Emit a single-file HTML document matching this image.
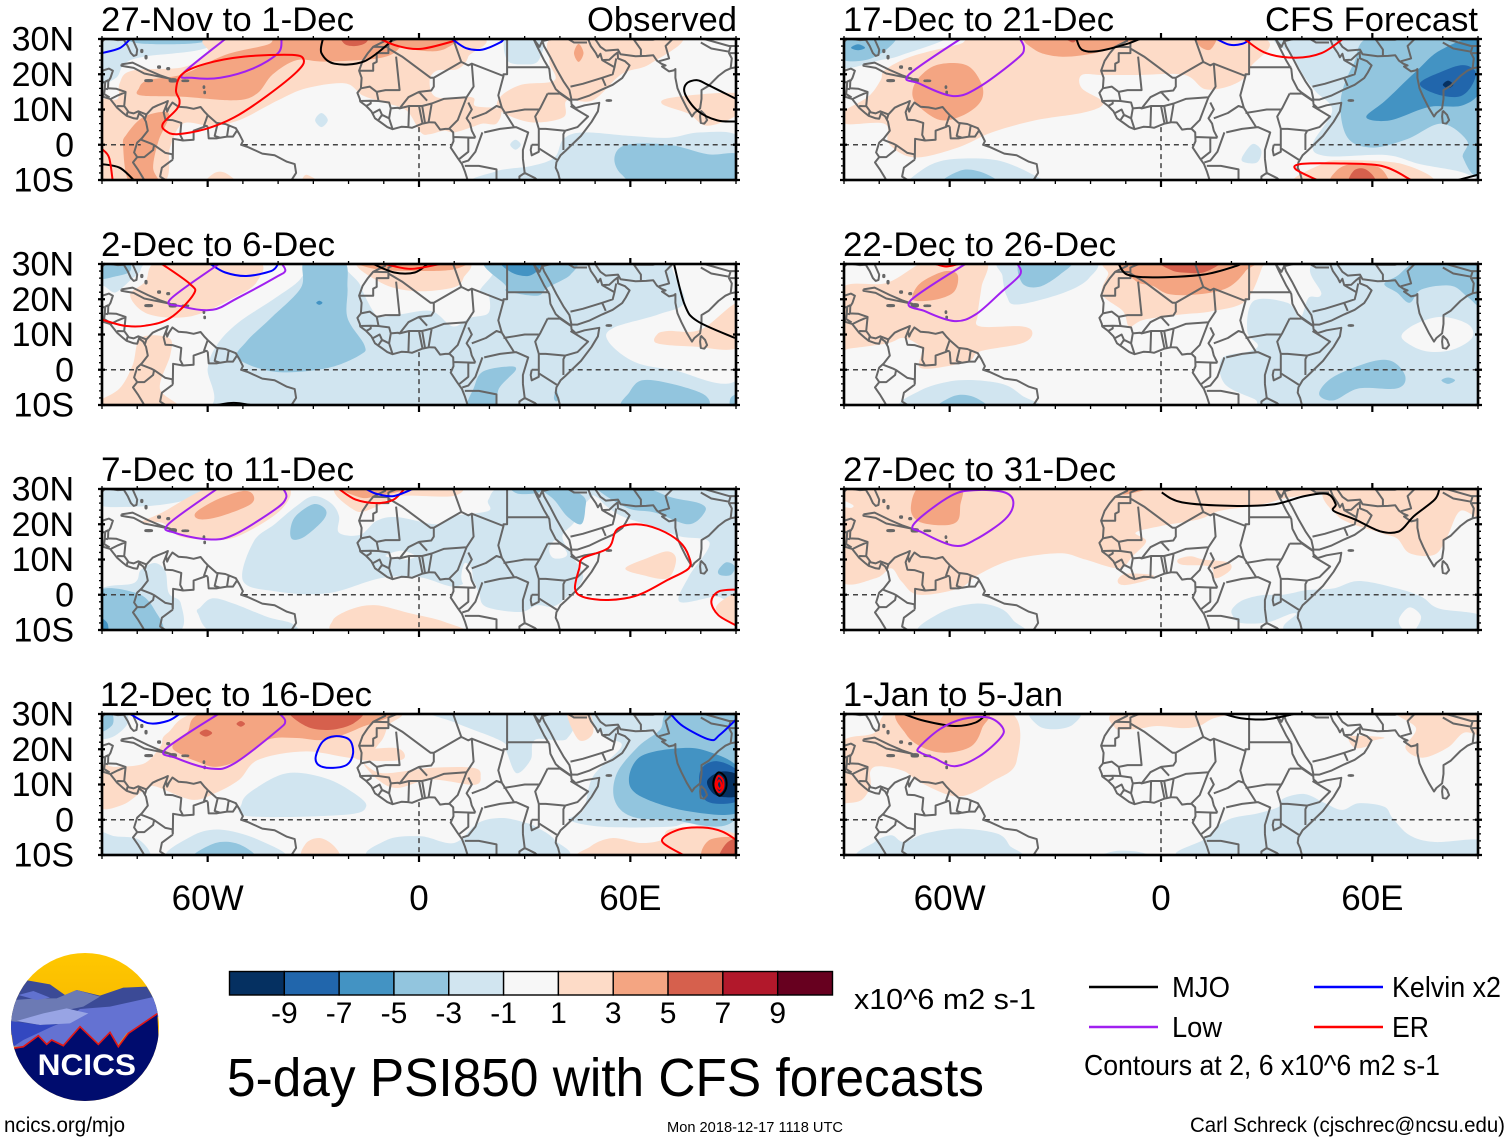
<!DOCTYPE html>
<html lang="en">
<head>
<meta charset="utf-8">
<title>5-day PSI850 with CFS forecasts</title>
<style>
html,body{margin:0;padding:0;background:#fff;width:1510px;height:1142px;overflow:hidden}
svg{display:block}
text{font-family:"Liberation Sans",sans-serif;fill:#000}
</style>
</head>
<body>
<svg id="chart" xmlns="http://www.w3.org/2000/svg" width="1510" height="1142" viewBox="0 0 1510 1142">
<g id="panels"></g>
<g font-size="34">
<text x="101" y="31" textLength="253" lengthAdjust="spacingAndGlyphs">27-Nov to 1-Dec</text>
<text x="587" y="31" textLength="150" lengthAdjust="spacingAndGlyphs">Observed</text>
<text x="101" y="256" textLength="234" lengthAdjust="spacingAndGlyphs">2-Dec to 6-Dec</text>
<text x="101" y="481" textLength="253" lengthAdjust="spacingAndGlyphs">7-Dec to 11-Dec</text>
<text x="100" y="706" textLength="272" lengthAdjust="spacingAndGlyphs">12-Dec to 16-Dec</text>
<text x="843" y="31" textLength="271" lengthAdjust="spacingAndGlyphs">17-Dec to 21-Dec</text>
<text x="1265" y="31" textLength="213" lengthAdjust="spacingAndGlyphs">CFS Forecast</text>
<text x="843" y="256" textLength="273" lengthAdjust="spacingAndGlyphs">22-Dec to 26-Dec</text>
<text x="843" y="481" textLength="273" lengthAdjust="spacingAndGlyphs">27-Dec to 31-Dec</text>
<text x="843" y="706" textLength="220" lengthAdjust="spacingAndGlyphs">1-Jan to 5-Jan</text>
</g>
<g id="colorbar"></g>
<text x="854" y="1009" font-size="29" textLength="182" lengthAdjust="spacingAndGlyphs">x10^6 m2 s-1</text>
<text x="227" y="1096" font-size="54" textLength="757" lengthAdjust="spacingAndGlyphs">5-day PSI850 with CFS forecasts</text>
<g>
<line x1="1089" x2="1158" y1="987" y2="987" stroke="#000" stroke-width="2.4"/>
<text x="1172" y="997" font-size="29" textLength="58" lengthAdjust="spacingAndGlyphs">MJO</text>
<line x1="1314" x2="1383" y1="987" y2="987" stroke="#0000ff" stroke-width="2.4"/>
<text x="1392" y="997" font-size="29" textLength="109" lengthAdjust="spacingAndGlyphs">Kelvin x2</text>
<line x1="1089" x2="1158" y1="1027" y2="1027" stroke="#a020f0" stroke-width="2.4"/>
<text x="1172" y="1037" font-size="29" textLength="50" lengthAdjust="spacingAndGlyphs">Low</text>
<line x1="1314" x2="1383" y1="1027" y2="1027" stroke="#ff0000" stroke-width="2.4"/>
<text x="1392" y="1037" font-size="29" textLength="37" lengthAdjust="spacingAndGlyphs">ER</text>
<text x="1084" y="1075" font-size="29" textLength="356" lengthAdjust="spacingAndGlyphs">Contours at 2, 6 x10^6 m2 s-1</text>
</g>
<text x="4" y="1132" font-size="21" textLength="121" lengthAdjust="spacingAndGlyphs">ncics.org/mjo</text>
<text x="667" y="1132" font-size="15" textLength="176" lengthAdjust="spacingAndGlyphs">Mon 2018-12-17 1118 UTC</text>
<text x="1190" y="1132" font-size="21.5" textLength="315" lengthAdjust="spacingAndGlyphs">Carl Schreck (cjschrec@ncsu.edu)</text>
<defs>
<clipPath id="logo-clip"><circle cx="255" cy="246" r="222"/></clipPath>
<linearGradient id="sun" x1="0" y1="0" x2="0" y2="1"><stop offset="0" stop-color="#ffc800"/><stop offset="1" stop-color="#eea400"/></linearGradient>
</defs>
<g transform="translate(0,945) scale(0.33333)">
<g clip-path="url(#logo-clip)">
<rect x="30" y="20" width="450" height="450" fill="url(#sun)"/>
<path d="M30,160 L82,106 L150,118 L195,150 L230,135 L300,152 L370,128 L440,125 L485,200 L30,270Z" fill="#3b4a96"/>
<path d="M30,235 L42,165 L110,160 L170,160 L230,135 L300,155 L250,185 L130,210Z" fill="#6c7ab4"/>
<path d="M55,150 L100,138 L150,158 L110,165Z" fill="#6172d0"/>
<path d="M240,192 L330,185 L465,155 L485,210 L380,265 L350,305 L330,262 L300,298 L240,245 L190,300 L155,285 L140,298 L115,272 L70,305 L40,305 L90,270 L180,235Z" fill="#6472d2"/>
<path d="M50,228 L130,205 L200,190 L265,205 L210,235 L120,240Z" fill="#98a4e4"/>
<path d="M30,228 L120,240 L170,238 L70,285 L40,305Z" fill="#3348c0"/>
<path d="M30,310 L45,308 L70,305 L115,272 L140,298 L155,285 L190,302 L240,245 L295,298 L330,262 L355,305 L385,265 L472,206 L485,480 L30,480Z" fill="#000c6e"/>
<path d="M40,310 L70,305 L115,272 L140,298 L155,285 L190,302 L240,245 L295,298 L330,262 L355,305 L385,265 L472,206" fill="none" stroke="#e01818" stroke-width="5"/>
</g>
<text x="113" y="390" font-size="88" font-weight="bold" style="fill:#fff" textLength="295" lengthAdjust="spacingAndGlyphs">NCICS</text>
</g>
</svg>
<script>
// Axis values
const xTickLabels = ['60W', '0', '60E'];
const xTickLons = [-60, 0, 60];
const yTickLabels = ['30N', '20N', '10N', '0', '10S'];
const yTickLats = [30, 20, 10, 0, -10];
const minorLons = [-90, -80, -70, -50, -40, -30, -20, -10, 10, 20, 30, 40, 50, 70, 80, 90];
const minorLats = [28, 26, 24, 22, 18, 16, 14, 12, 8, 6, 4, 2, -2, -4, -6, -8];
const equatorSegments = [[-90, -79], [-50, 9.5], [42.5, 90]];
const meridianSegment = [5, -10];

// Colour bar
const cbarColors = ['#053061', '#2166ac', '#4393c3', '#92c5de', '#d1e5f0', '#f7f7f7', '#fddbc7', '#f4a582', '#d6604d', '#b2182b', '#67001f'];
const cbarLabels = ['-9', '-7', '-5', '-3', '-1', '1', '3', '5', '7', '9'];
const bandKeys = [-5, -4, -3, -2, -1, 0, 1, 2, 3, 4, 5];
const contourColors = {MJO: '#000000', Low: '#a020f0', Kelvin: '#0000ff', ER: '#ff0000'};

// Map outlines, lon/lat
const landOutlines = [
[[-90,29.2],[-89,30.2],[-85.5,29.7],[-83.8,29.8],[-82.7,28],[-81.8,26],[-81,25.2],[-80.2,25.5],[-80,27],[-81.2,29.7],[-81.4,31]],
[[-91,18.7],[-90.5,20.8],[-88,21.6],[-86.9,21],[-87.6,19],[-88.2,18],[-88.3,16],[-86,15.9],[-83.3,15],[-83.7,11],[-82.4,9.2],[-81,8.9],[-79.7,9.5],[-77.4,8.6],[-75.6,10.5],[-74.2,11.2],[-72.2,12],[-71.3,12.4],[-71.8,10.8],[-71.5,9.4],[-71,10.5],[-70,12],[-68.3,10.8],[-66,10.6],[-64,10.2],[-62,10.7],[-61,9.5],[-60,8.4],[-57.5,6.2],[-55,5.9],[-52,4.7],[-51,3],[-50,1],[-50.5,0],[-48.5,-0.7],[-44.5,-2.5],[-41,-3],[-37.5,-4.8],[-35.3,-5.5],[-34.9,-8],[-36.5,-10.5],[-37.5,-11]],
[[-91,14],[-87.7,13],[-85.7,10.5],[-84,9],[-83,8.2],[-81,7.5],[-80,7.4],[-79.5,8.9],[-78.3,8],[-77.5,6.5],[-77,4],[-78.7,1.8],[-80,0.6],[-80.9,-2.2],[-80,-3.5],[-81.2,-5],[-79.7,-7.2],[-78.3,-9.5],[-77.5,-11]],
[[-92,15],[-91,17.5],[-89.1,17.8],[-89.2,15.9],[-88.3,15.8]],[[-89.1,17.9],[-88.2,18.3]],[[-89.2,15.9],[-89.4,14.4],[-87.8,13.4]],[[-89.4,14.4],[-90,13.7]],
[[-87.5,13],[-85.5,14],[-83.2,15]],[[-85.7,11],[-83.7,10.9]],[[-83,8.3],[-82.7,9.6]],[[-77.4,8.6],[-77.8,7.3]],
[[-71.5,11.8],[-72.5,9.2],[-72,7.1],[-70,7],[-67.5,6.2],[-67.8,2.8],[-67,1.2],[-69.8,1.7],[-69.9,-4.2]],
[[-78.8,1.4],[-76,0.3],[-75.2,-0.1],[-72,-2.3],[-70,-2.7],[-69.9,-4.2]],[[-80.2,-3.5],[-78,-3.5],[-75.5,-1.5],[-75.2,-0.1]],
[[-60,8.4],[-61,5.5],[-60,5.2]],[[-60.7,5.2],[-64,4],[-64,1.4],[-67,1.2]],[[-60,5.2],[-59.7,1.8],[-57.5,1.8],[-56.5,2]],
[[-57.2,5.9],[-58,2.5],[-56.5,2]],[[-54,5.7],[-54.5,2.3],[-56.5,2]],[[-51.6,4.2],[-52.8,2.3],[-54.5,2.3]],[[-69.9,-4.2],[-73,-6.5],[-73.5,-9],[-70.5,-11]],
[[-84.5,22.8],[-81.3,23.3],[-77,21.2],[-73.5,19.7],[-70.6,18.7],[-75,19.6],[-78,20.2],[-81,21.8],[-84.5,22.4],[-84.5,22.8]],
[[-9.6,31],[-9.6,29.5],[-13,27.8],[-14.5,26],[-16,23.8],[-17,21],[-16.3,19],[-16.5,16],[-17.5,14.7],[-16.8,13],[-16.7,12.3],[-15,11],[-13.5,9.5],[-12.5,7.5],[-10.8,6.3],[-9,5],[-7.5,4.4],[-5,5.1],[-3,5],[-2,4.8],[1,6],[3,6.4],[4.5,6.3],[6,4.3],[7.5,4.5],[8.7,4.5],[9.7,3.5],[9.8,1],[9,-0.8],[11,-3.8],[12.2,-5.5],[13,-7.5],[13.8,-10],[13.8,-11]],
[[32.6,31.2],[32.6,29.9],[33.6,27.8],[35.5,24],[37,21.5],[37.3,18.7],[38.8,15.8],[39.7,15],[43.2,12.5],[43.3,11.5],[44.5,10.4],[47,11.2],[51.2,11.9],[50.8,9.5],[49,6.5],[46,2.5],[43.5,0.1],[41.5,-1.8],[40.2,-3],[39,-5],[38.8,-6.5],[39.5,-8],[40,-10],[40.5,-11]],
[[32.6,29.9],[34.2,27.8],[35,29.5],[34.5,31.2]],
[[35,29.5],[35.5,28],[37.2,25],[39,21.5],[41,18],[42.7,15.5],[43.3,12.8],[45,12.8],[48.5,14],[52,15.7],[55,17],[57.7,18.9],[58.7,20.5],[59.8,22.5],[58.5,23.7],[56.5,24.5],[56.4,26.2],[55.5,25.5],[54,24.1],[52,24],[51.5,25.8],[50.8,24.8],[50.2,26],[48.8,28],[48,30],[48.6,30]],
[[48.6,30],[50,30],[51.5,27.8],[53,26.7],[56.5,27],[57.2,25.7],[61.5,25.1],[64.5,25.2],[66.5,25.4],[67.5,23.9],[68.8,23],[70,22.5],[69,22.2],[71,20.8],[72.3,21.1],[72.8,21.5],[72.8,19],[73.4,16],[74.5,13.5],[76,10.5],[77.5,8],[78.2,9],[79.8,10.3],[80.2,13],[80.2,15.5],[82.2,16.7],[85,19.5],[87,21],[88.5,21.7],[90,22],[91,22.5]],
[[80,9.7],[81.2,8.5],[81.8,7],[81,6],[80,6.2],[79.8,8],[80,9.7]],
[[-13,27.8],[-8.7,27.7],[-8.7,29],[-5,30.5]],[[-17,21],[-13,21],[-13,23],[-12,23.5],[-12,26],[-8.7,26],[-8.7,27.7]],
[[-8.7,27.3],[-4.8,25],[3.3,19],[4.2,19],[4.2,16.5],[3.5,15.4],[0,15]],[[-6.5,25],[-5.5,15.5],[-9.5,15.5],[-12,15],[-11.5,12.5]],[[-16.5,16],[-14,16.5],[-12,15]],
[[-16.7,12.4],[-13.7,12.5],[-11.5,12.4],[-8.5,12],[-8,10.3],[-6,10.5],[-5.5,10.3],[-2.8,11],[0,11],[0.9,11],[3.6,11.7]],[[-13.7,12.5],[-13.7,11.7],[-15,11]],
[[-13,9],[-11.2,10],[-10.5,8.5],[-11.5,7]],[[-10.5,8.5],[-8.5,7.5],[-7.5,4.4]],[[-8.5,7.5],[-8,10.3]],
[[-5.5,10.3],[-3,13.5],[0,15],[2.3,12.5]],[[-2.8,11],[-3,5]],[[0,11],[1,6]],[[0.9,11],[1.7,6.2]],[[2.7,6.3],[3.6,11.7],[7,13],[13.5,13.5]],
[[4.2,19],[12,23.5],[14,22.5],[15,23],[15.5,16.5],[13.5,13.5]],[[12,23.5],[9.5,30.5]],[[15,23],[24,19.5],[24,20],[25,20],[25,31]],[[25,22],[37,22]],
[[24,19.5],[22.5,14],[23.5,10.5],[27,5]],[[8.5,4.5],[11,7],[13.5,13.5]],[[14,12],[15,10],[13.5,7.5],[14.5,6],[15,4],[16,2]],
[[15,7.5],[19,9],[22,11],[23.5,10.5]],[[24,9],[27,9.5],[30,10],[34,10]],[[36.5,14.5],[34.5,10.5],[33,8],[34,4.5]],
[[18.5,3.5],[23,4.5],[27.5,5],[31,3.5],[29.5,-1.5],[29.5,-4]],[[34,4.5],[34,0],[34,-1],[39.5,-4.5]],[[34,4.5],[36,4.5],[41.5,4],[45,5],[48,8],[43,11]],[[41,-1.5],[41,3],[41.5,4]],
[[36.5,14.5],[40,14.5],[43,12.5]],[[9.7,2.2],[16,2]],[[14,2],[14,-2],[11.5,-4]],[[18,3.5],[16,-2],[14,-4.5],[12.3,-5]],[[13,-6],[17,-6],[22,-7],[22,-11]],[[22,-11],[24,-11]],
[[32,0],[34,0],[34,-2],[32,-3],[31.7,-1.5],[32,0]],[[29.5,-4],[30,-8],[31,-8.5]],[[30,-8],[28.5,-9],[28.5,-11]],[[31,-8.5],[33,-9.5],[34.5,-11]],[[34.5,-10],[34.5,-11]],
[[43,16.5],[46.5,17.3],[52,19],[55,20],[55.5,22]],[[52,24],[55.5,22],[56,24.5]],[[52,19],[53,16.7]],[[37,32],[39,32],[44,29],[46.5,29],[47.7,29]],[[47.7,31],[48.3,30]],[[35,29.4],[37.5,30],[36,31.5]],
[[61,31],[61,29.8],[63,27],[63,25.3]],[[61,29.8],[66.5,29.8],[69.5,31]],[[68.2,23.7],[71,24.5],[70,28],[73,31]],[[80,29],[83,27.3],[88,26.4]],[[88,26.4],[88.5,28]],[[88.5,21.8],[88.8,24.5],[88,26],[89.7,26],[92,26.5]],[[92,25],[92.5,21]],[[78,31],[81,30],[88,28],[92,28]]
];
const islandBlobs = [
[[-77.7,18.5],[-75.8,18.5],[-75.8,17.9],[-77.7,17.9]],
[[-70.8,18.7],[-69,18.7],[-69,17.8],[-70.8,17.8]],
[[-67.2,18.4],[-65.5,18.4],[-65.5,17.9],[-67.2,17.9]],
[[-79,27],[-78.4,27],[-78.4,26.2],[-79,26.2]],
[[-77.8,25.3],[-77.2,25.3],[-77.2,24.4],[-77.8,24.4]],
[[-74.2,22.4],[-73.4,22.4],[-73.4,21.7],[-74.2,21.7]],
[[-71.6,21.9],[-70.8,21.9],[-70.8,21.3],[-71.6,21.3]],
[[-61.3,16.7],[-60.8,16.7],[-60.8,16],[-61.3,16]],
[[-61.1,15.2],[-60.6,15.2],[-60.6,14.5],[-61.1,14.5]],
[[53.2,12.8],[54.6,12.8],[54.6,12.3],[53.2,12.3]]
];

// Panel 1: 27-Nov to 1-Dec
const fills1 = [
[-1,[[-91,31],[-91,18],[-86,19],[-83.6,23],[-78,25],[-62,27],[-55,31]]],
[-2,[[-82,31],[-81,29],[-72,28.5],[-62,29],[-58,31]]],
[-1,[[25,31],[25,24],[30,22.8],[34,24],[35,31]]],
[-1,[[-29.5,7],[-27.7,9],[-25.9,7],[-27.7,5]]],
[-1,[[20,-11],[22,-7.5],[32,-6],[38.5,-3.6],[41,1.6],[46.7,3.5],[60,2.5],[71,2],[80,3.5],[91,2],[91,-11]]],
[-1,[[25.9,0],[27.4,1.4],[28.9,0],[27.4,-1.4]]],
[-2,[[55.5,-3.6],[59,0],[71,0],[82,-2.7],[91,-2.9],[91,-11],[64,-11],[57.5,-8.4]]],
[1,[[-91,-11],[-91,11],[-85.6,13],[-85,17.4],[-81.5,21],[-67,22],[-60,26],[-55,31],[14,31],[14,25],[11,21.5],[5,21],[3,18],[5,13.5],[15,13.5],[16,11],[23,10],[22,6],[18,6],[15,5],[10,3.5],[7,4],[3,3],[0.5,3.5],[-3.5,9.7],[-10,12],[-16,14],[-21,17.4],[-32,16],[-40,12.6],[-51,7],[-59,5.4],[-67,6],[-70.7,-0.8],[-73,-11]]],
[1,[[40,31],[37,24],[38.5,18.3],[29,17],[23,13.5],[23,9.7],[31.7,6.4],[41,7.8],[42,12.6],[49.4,12.6],[57.5,20],[65.7,23],[74,31]]],
[1,[[69,11.6],[72.5,13.5],[91,14.5],[91,9],[82,5.4],[76.5,8.8]]],
[1,[[-60.5,-11],[-58,-8],[-55,-8],[-52,-11]]],
[1,[[-33,-11],[-32,-8.5],[-28,-11]]],
[2,[[-79.5,16],[-77,18.3],[-67,20],[-55,25.5],[-43,28.4],[-37.5,31],[-6,31],[-6,27],[-11.7,24.5],[-26.6,23.6],[-34.7,24],[-41.5,20],[-46,14.5],[-52.4,12.6],[-67,13.6],[-79,14]]],
[2,[[-84,-0.5],[-83,3],[-78,8],[-71,8.8],[-74,1],[-75.5,-6.5],[-74,-11],[-82,-11]]],
[2,[[-6,31],[-6,28],[3,26.5],[8,27.5],[11,31]]],
[2,[[44,26],[45.3,28.6],[46.7,26],[45.3,23.5]]],
[3,[[-22,31],[-21,28.5],[-18,28],[-15,29],[-15,31]]]
];
const contours1 = [
['MJO',0,[[-27.3,30],[-27.7,26],[-24,23],[-15.7,23.6],[-8.3,29],[-8.3,30]]],
['MJO',0,[[-90,-5.5],[-85,-6.5],[-81,-10]]],
['ER',0,[[-90,-1.2],[-88,-3.6],[-87,-10]]],
['Kelvin',0,[[-90,26],[-85,27.4],[-82,30]]],
['Low',0,[[-55,30],[-67,20.2],[-64.5,19],[-56.4,19],[-47,21.7],[-40,26],[-39,30]]],
['ER',1,[[-67.3,20],[-60.5,23],[-49.7,25],[-36,25.5],[-32.7,24],[-34.7,20.7],[-43,14],[-52.4,7.8],[-60.5,4.5],[-68.7,3],[-72,4],[-72.7,6],[-68.7,10.2],[-68,12.6],[-69,15.5]]],
['ER',0,[[-11,30],[-6,28],[0.5,27.2],[9.4,29.3],[10,30]]],
['Kelvin',0,[[9.4,30],[13.4,27.4],[18,27],[23,29],[24,30]]],
['MJO',0,[[90,13],[82,17],[79,18.3],[76,17.4],[75.5,14.5],[79,9.7],[84.7,6.9],[90,6.6]]]
];

// Panel 2: 2-Dec to 6-Dec
const fills2 = [
[-1,[[-92,32],[92,32],[92,-12],[-92,-12]]],
[0,[[-33.5,31],[-33.5,26],[-40.7,20.4],[-51.4,13.3],[-57.4,7],[-60,0.4],[-60.4,-11],[-91,-11],[-91,21.4],[-86,22],[-80,27],[-73,31]]],
[0,[[-18.5,31],[-16.7,24],[-13,16.6],[-10.8,15],[-5.4,15.7],[3.6,16.6],[9.6,12.3],[14.4,14.7],[19.7,16.1],[19.7,21.4],[17.3,22.3],[19.7,31]]],
[0,[[72.4,31],[75.4,19.5],[68,15.7],[55,11.8],[53.8,8],[61,2.3],[71.8,0],[91,-2],[91,31]]],
[-2,[[-32.3,31],[-21.5,31],[-20.3,23.3],[-20.3,14.7],[-15.5,7],[-16.7,4.2],[-26.3,0.4],[-40.7,-0.6],[-51.4,3.2],[-49,8],[-42,14.7],[-33.5,23.3]]],
[-3,[[-29.2,19],[-28.3,19.6],[-27.4,19],[-28.3,18.4]]],
[-2,[[19,31],[24.5,24],[25,22.3],[33.5,21],[36.5,23.3],[43,27],[43,31]]],
[-3,[[23.3,31],[26.3,27.6],[31,26.6],[34,28.5],[34.7,31]]],
[-2,[[15.5,-5.3],[18,-0.6],[25,0.9],[27.5,0],[22.7,-5.3],[21.5,-11],[13.8,-11]]],
[-2,[[59.8,-6.3],[63.4,-3],[71.8,-4],[81.3,-7.3],[80,-11],[58.6,-11]]],
[-2,[[-91,31],[-83,31],[-82,28],[-86,26.5],[-91,26]]],
[-2,[[88.5,-11],[88.5,-8],[91,-7],[91,-11]]],
[-2,[[38.3,-8],[39,-5.5],[39.6,-8],[39,-9]]],
[1,[[-73,31],[-46.6,31],[-46,25],[-52.6,20.4],[-64.6,15.2],[-76.6,15.7],[-82,21],[-77.7,25]]],
[1,[[-79,9],[-71,9],[-70.6,4.2],[-73.6,-5.3],[-68.8,-11],[-91,-11],[-91,-9],[-85,-5.3],[-81.3,1.3]]],
[1,[[-16.7,31],[-10.8,24.7],[-1.2,22.3],[9.6,23.3],[12.6,26],[12.6,31]]],
[2,[[-17,31],[-12,28.5],[0,28],[10,28.5],[12,31]]],
[1,[[67.6,10],[70.6,11],[80,11.4],[91,19],[91,6.6],[77.7,6.6],[67.6,7.5]]]
];
const contours2 = [
['Kelvin',0,[[-59.2,30],[-55,27.6],[-49,26.6],[-42,28],[-40,30]]],
['Low',0,[[-56.8,30],[-70.6,20],[-67.5,18],[-58.6,17],[-51.4,20.4],[-40.7,26.2],[-38,28],[-38.9,30]]],
['ER',0,[[-73,30],[-65,24.3],[-64,21.4],[-70.6,14.7],[-77.7,12.5],[-83.7,12.5],[-90,14.2]]],
['MJO',0,[[-13,30],[-7,27.6],[-1.2,27.6],[2.4,30]]],
['ER',0,[[-9.6,30],[-2.4,28.6],[6,30]]],
['MJO',0,[[72.4,30],[75.4,18.5],[79,13.8],[89.7,9]]],
['MJO',0,[[-57.4,-10],[-52.6,-9.4],[-47.8,-10]]]
];

// Panel 3: 7-Dec to 11-Dec
const fills3 = [
[-1,[[-91,31],[-91,25.5],[-80,25],[-70,26],[-62,28],[-56,31]]],
[-1,[[-50,4],[-47,15],[-41,20],[-35,25],[-30,28],[-25,26],[-22.7,22.3],[-22.7,17.6],[-16.7,17],[-12,21],[-6,22],[5,20],[9.6,22.3],[19.7,23.8],[19.7,27],[25,31],[49,31],[46.6,25],[44,20.4],[40.7,16.6],[43,11.8],[46.6,5],[42,-0.6],[38,-3.4],[33.5,-3],[28.7,-4.9],[19,-3.4],[17,0.4],[15,4],[9.6,2.3],[0,5],[-11,4.7],[-26,0.4],[-41,1]]],
[-1,[[50,31],[91,31],[91,0],[84,-0.5],[74,-2],[76.5,5],[82.5,14.7],[74,16.6],[66,19.5],[58.6,21.9],[55,23.8],[51.4,27]]],
[0,[[37,13],[39,15.5],[42,12],[41,10.5],[38,10.5]]],
[0,[[12,5],[13,9],[15,7],[15,2.5],[13,2.5]]],
[0,[[-9.5,11],[-5,12.5],[-1,11],[-4,10]]],
[-1,[[-91,-11],[-91,1],[-81,3.3],[-79,7],[-75,9],[-72,6.6],[-71,0.4],[-67.6,-2.5],[-69,-11]]],
[-2,[[-91,1],[-80,0.4],[-75,-4.4],[-73.6,-11],[-91,-11]]],
[-3,[[-91,-11],[-91,-6.5],[-88.5,-8],[-88.5,-11]]],
[-1,[[-62,-3.5],[-58.6,-1],[-52.6,-2.5],[-43,-6.3],[-36,-8.2],[-36,-11],[-57.4,-11],[-62.8,-5.3]]],
[-2,[[-36.5,18.5],[-35,22.3],[-30,25.7],[-26.6,24.3],[-27,21.4],[-32.3,16.6],[-35.9,15.7]]],
[-2,[[33.5,31],[38.3,27],[42,22.3],[46,20],[47.2,24.3],[46.6,28],[39.5,31]]],
[-2,[[26,31],[28,28.7],[34,29],[34,31]]],
[-2,[[50,31],[59,24.7],[67,23.3],[76.6,20],[81.3,23.8],[79.5,26],[71.8,27.6],[62,31]]],
[-2,[[85,7],[87.3,9.2],[89.7,8],[88.5,5.6],[85.5,5.6]]],
[1,[[-79,20.4],[-73,23.3],[-57.4,31],[-38,31],[-39,24.3],[-51.4,16.6],[-59.8,15.7],[-68,16.6],[-73,20.4]]],
[1,[[-22.7,31],[-18,23.8],[-12,25],[-6,28],[9.5,28],[9.5,31]]],
[2,[[-22.7,31],[-16.7,27.6],[-12,28],[-4.8,29.5],[-4.2,31]]],
[1,[[-24.5,-7.3],[-19,-4],[-12,-3],[-2.4,-5.3],[7.2,-7.7],[12,-11],[-21.5,-11]]],
[1,[[58.6,7.5],[64.8,10.4],[70.6,12.3],[73,10],[70.6,4.7],[63.4,5.6]]],
[1,[[85,-2.5],[91,0.4],[91,-8.2],[85,-5.3]]],
[2,[[-63.4,23.3],[-57.4,27],[-50.2,29.4],[-47.2,28.5],[-47.8,25.7],[-56.2,22.3],[-62.2,21.4]]]
];
const contours3 = [
['Low',0,[[-57.4,30],[-71.2,20],[-69.4,17.6],[-59.8,15.7],[-52.6,17],[-40.7,24.3],[-37.7,27.6],[-38.5,30]]],
['ER',0,[[-22.7,30],[-18,27],[-12,26],[-7.2,27],[-4.2,30]]],
['Kelvin',0,[[-15,30],[-12,28.6],[-7.2,28],[-1.8,30]]],
['ER',1,[[56.2,18.5],[61.6,20],[68.2,18.5],[74,15],[76.6,10.9],[76.6,7.5],[70.6,4.2],[62.2,-0.1],[53.8,-1.5],[46.6,-0.6],[44.3,1.8],[45.5,7.5],[46.6,10.4],[53.8,13.3]]],
['ER',0,[[90,1.5],[85,0.9],[83,-2],[85,-5.8],[90,-8.7]]]
];

// Panel 4: 12-Dec to 16-Dec
const fills4 = [
[-1,[[-91,31],[-84,31],[-82.7,27.4],[-86.8,23.6],[-91,23.6]]],
[-2,[[-91,31],[-87.5,31],[-87,27],[-91,25]]],
[-1,[[-50.3,4.7],[-47,8.5],[-37.5,13.2],[-26.6,11.8],[-18.5,7.6],[-15,3.8],[-21,1.4],[-48.3,1]]],
[-1,[[4,31],[10.7,27.4],[23.6,22.2],[25,18.9],[27.7,13.2],[31.7,17],[33,22.7],[42,23],[41,31]]],
[-1,[[48,31],[53.5,23.6],[57.5,20.8],[49.4,12.3],[46.7,2.8],[42.6,0],[52,-2],[71,-2],[76.5,-1],[91,-2],[91,31]]],
[-2,[[71.8,31],[68.4,25.5],[62.3,20.8],[56.2,13.2],[55.5,5.7],[60.2,1],[71,0],[90,0.5],[91,31]]],
[-3,[[59.6,11.4],[63,18],[73.8,20.3],[82,19.4],[91,14.2],[91,2.4],[76.5,2.4],[63,6.6]]],
[-4,[[80,14.2],[84.7,16.6],[91,13.2],[91,5.7],[83.3,4.7],[80,7.6]]],
[-5,[[82,11.4],[86,13.7],[91,12.3],[91,7],[85.3,6.6],[82.6,8.5]]],
[-1,[[-70.7,-11],[-64.6,-4.7],[-56.4,-2.8],[-45.6,-5.7],[-38.8,-11]]],
[-2,[[-64,-11],[-57.8,-6.6],[-51,-7],[-47,-11]]],
[-1,[[-91,-3.8],[-86.3,-4.7],[-79.5,-5.7],[-76.8,-11],[-91,-11]]],
[-1,[[-11.7,-11],[-9,-5.7],[0.5,-4.7],[10,-6.6],[16.8,-0.9],[23.6,0.5],[30.4,-0.9],[33,-1.9],[38.5,-5.7],[39.2,-11]]],
[1,[[-91,15],[-86,15],[-78,16],[-73.4,20.8],[-71.4,24.6],[-59,31],[-8.3,31],[-9,26.5],[-11,22],[-17,17.5],[-32,19.4],[-45.6,17],[-51,11.4],[-57.8,7.6],[-64.6,5.7],[-75,9.5],[-78,8.5],[-84,4.3],[-91,3.8]]],
[1,[[-17,19.4],[-6.2,20.3],[-4.9,17],[-17,17]]],
[1,[[-15.7,16],[-10.3,13.2],[3.3,14.7],[15.5,14.7],[17.5,12.3],[15.5,9.9],[3.3,11.4],[-6.2,9],[-11.7,11.4]]],
[1,[[42,31],[45.3,22.7],[49.4,24.6],[48,31]]],
[1,[[-32,-6.6],[-28,-5.2],[-24,-7.6],[-23,-11],[-33,-11]]],
[1,[[48.7,-7.6],[54.8,-5.2],[63,-6.6],[69,-5.7],[71,-2.8],[80.6,-2.1],[91,-4.7],[91,-11],[48,-11]]],
[2,[[80.6,-11],[82.6,-5.7],[91,-5.5],[91,-11]]],
[3,[[85.3,-11],[87.4,-6.6],[91,-5.5],[91,-11]]],
[2,[[-67.3,18.4],[-70,20.8],[-66,24.6],[-57.8,31],[-9,31],[-17,26],[-26.6,22.7],[-34.7,23.2],[-42.9,22.7],[-51,17],[-57.8,15],[-63.2,16.6]]],
[3,[[-36,31],[-32,26.5],[-25.2,25.5],[-18.5,27.4],[-17,31]]],
[3,[[-62.3,24.6],[-60.5,25.6],[-58.7,24.6],[-60.5,23.6]]],
[3,[[-51.8,27.2],[-50.6,28],[-49.4,27.2],[-50.6,26.4]]]
];
const contours4 = [
['Kelvin',0,[[-82,30],[-76.8,27.4],[-71.4,28],[-68,30]]],
['Low',0,[[-57,30],[-72,20],[-68.9,17.5],[-59,14.5],[-52.4,16],[-40,25.5],[-38,28],[-39.5,30]]],
['Kelvin',1,[[-29.3,18],[-27.3,22.2],[-23.9,23.7],[-19.8,22.7],[-18.7,18.9],[-20.5,15.6],[-25.2,14.7],[-28.6,15.6]]],
['Kelvin',0,[[71.5,30],[75,26.5],[82.6,22.7],[85.3,24],[90,28.4]]],
['ER',0,[[75,-10],[69,-6],[73.8,-2.8],[80.6,-2.2],[86,-3.3],[90,-5.7]]],
['MJO',1,[[83.6,11],[85,13.4],[87,12],[87.2,9],[85.5,6.8],[84,8.3]]],
['ER',1,[[84.2,10.5],[85,12.4],[86.3,11.2],[86.3,9],[85.3,7.8],[84.4,8.8]]],
['ER',1,[[84.6,10],[85.2,11.2],[85.8,10.2],[85.8,9.2],[85.2,8.8]]]
];

// Panel 5: 17-Dec to 21-Dec
const fills5 = [
[-1,[[-91,31],[-91,22],[-79.6,24],[-73.5,25.5],[-61,31]]],
[-2,[[-91,31],[-91,24.5],[-84,24],[-78,27],[-76,31]]],
[-3,[[-88,27.5],[-86,28.5],[-84,27.5],[-86,26.8]]],
[-1,[[-71,-9.5],[-65,-5.5],[-57.7,-4],[-45.6,-4.6],[-34.6,-9.4],[-33,-11],[-72,-11]]],
[-2,[[-62,-11],[-56.5,-7.2],[-50.4,-8],[-46.8,-11]]],
[-1,[[23,-3.6],[26,0.2],[28.5,-1.7],[27.3,-5],[23.7,-5]]],
[-1,[[35.8,31],[37.7,25],[40.7,19.3],[44,15],[48.6,9.7],[43.1,0.2],[46.8,-3.2],[63.8,-2.9],[73.5,-5.5],[84.4,-7.5],[89.3,-9.4],[91,-10],[91,31]]],
[-2,[[60.8,31],[54.7,23],[51,12.6],[52.9,2.1],[60,-0.8],[69.9,1.6],[79.6,6],[86.9,1.1],[85.7,-3.6],[90.3,-6.5],[91,31]]],
[-3,[[58.3,7.8],[63.8,12.6],[72.3,20.7],[79.6,27],[90.3,29.8],[91,16.4],[85.7,11.2],[76,10.7],[65,6.9]]],
[-4,[[73.5,17.4],[79.6,20.7],[85.7,22.6],[89.3,20.7],[88,16.4],[84.4,13.6],[77.8,14.5]]],
[-5,[[80,17],[81.5,18.2],[83,17],[81.5,16]]],
[1,[[-79.6,18.3],[-78.4,21.2],[-71,25],[-57.7,28.4],[-45.6,31],[25.5,31],[25.5,22],[21.3,17.4],[12.8,15.7],[6.7,19.8],[-6.7,19.8],[-16.4,19.8],[-22.5,19.8],[-22.5,16],[-16.4,12],[-21.3,9.3],[-35.8,6.9],[-48,3.5],[-57.7,-0.8],[-69.9,-3.6],[-77.2,0.2],[-78.4,5.9],[-89.3,5.9],[-91,8.8],[-83.2,13.6]]],
[2,[[-70.5,13.6],[-69.3,18.3],[-63.8,22.6],[-55.3,22.6],[-51,17.4],[-51,12.6],[-55.3,8.8],[-62,6.9],[-67.4,9.7]]],
[2,[[-36.8,31],[-35.8,26.9],[-28.6,25],[-18.8,26],[-10.3,28.8],[-6.7,31]]],
[2,[[10.3,31],[11,28],[14,27],[15.8,31]]],
[3,[[-28,31],[-25,29],[-23.7,31]]],
[1,[[39,-11],[45.6,-5.5],[51.6,-4.4],[68.6,-5.5],[76,-11]]],
[2,[[49,-11],[49.8,-7.4],[54,-5.5],[61.4,-6.2],[64.4,-9.4],[64,-11]]],
[3,[[53.5,-11],[54.7,-7.4],[57.7,-6.8],[60.4,-9],[60.4,-11]]]
];
const contours5 = [
['Low',0,[[-57,30],[-71.7,19.8],[-68.7,17.4],[-59,13.8],[-51.6,16.4],[-40.7,24.5],[-38.9,27.4],[-40,30]]],
['MJO',0,[[-24,30],[-22.5,27],[-18.2,26.5],[-10.3,28.4],[-6,30]]],
['Kelvin',0,[[15.8,30],[19.4,28.4],[23,28.6],[25.5,30]]],
['ER',0,[[23.7,30],[29.8,26],[38.3,24.7],[45.6,26],[51.6,30]]],
['ER',0,[[44.3,-10],[38.3,-7],[39.5,-5.5],[49.2,-5.3],[62.6,-6],[71,-10]]],
['MJO',0,[[84.4,-10],[90.3,-8.4]]]
];

// Panel 6: 22-Dec to 26-Dec
const fills6 = [
[1,[[-91,22.8],[-77.7,24.7],[-65.8,31],[-50,31],[-51,23.3],[-52,15.7],[-51.4,12.3],[-39.5,12.3],[-36.5,10.4],[-39.5,7.5],[-51.4,5.2],[-55,2.3],[-68,0.4],[-68,6],[-73,9],[-77.7,7.5],[-88.5,6],[-91,6]]],
[-1,[[-45,26.6],[-44.8,31],[-19.7,31],[-20.4,26],[-27.5,21.9],[-40.7,18.5],[-43.8,20.9]]],
[-2,[[-39.5,24.7],[-39.5,31],[-25.5,31],[-28.7,27],[-34.7,23.5]]],
[2,[[-70.6,20.9],[-68.2,24.7],[-61.6,27.9],[-57.8,27],[-58.6,22.3],[-63.4,20],[-69.4,19.5]]],
[1,[[-15,27],[-16.7,21.4],[-10.8,16.6],[-9,12.3],[-4.8,14.2],[6,15.7],[14.4,16.6],[24,19.5],[28.7,29],[28.7,31],[-13,31]]],
[2,[[-10,31],[-7.2,25.2],[-2.4,23.8],[2.4,21.4],[10.8,21.4],[19,23.3],[24,28],[24.5,31]]],
[3,[[0,31],[3,28.2],[7.2,27.5],[12,27.6],[16,29.5],[17,31]]],
[-1,[[26.3,19.5],[35.9,19],[39.5,14.7],[41.9,20.4],[45.5,21.4],[45.5,31],[91,31],[91,-11],[34.7,-11],[26.3,-8.2],[18,-3.9],[17.3,3.2],[25,5.2],[27.5,7],[24.5,10.9]]],
[0,[[68.4,10],[73,13.3],[80,15],[87.3,12.8],[88.3,9],[82.5,5.6],[75.4,5.2],[70,7.5]]],
[-2,[[63.4,24.3],[67,26.6],[74,31],[91,31],[91,18.5],[87.3,20.4],[82.5,23.8],[74,22.8],[70.6,19],[67,21.9]]],
[-2,[[44.9,-6.8],[49,-2],[59.8,2.3],[65.8,2.3],[69.4,-2],[67,-5.3],[56.2,-5.3],[49,-8.7]]],
[-2,[[79.6,-3],[81.5,-2.2],[83.5,-3],[81.5,-4]]],
[-1,[[-72.4,-11],[-68.2,-5.8],[-57.4,-3],[-45.5,-3.9],[-39.5,-7.3],[-35.9,-11]]],
[-2,[[-63.4,-11],[-58.6,-7.4],[-53.2,-7.7],[-49.6,-11]]]
];
const contours6 = [
['Low',0,[[-55.6,30],[-71.2,19.5],[-67,16.6],[-58.6,13.8],[-52.6,15.7],[-45.5,21.9],[-40,27],[-40.7,30]]],
['ER',0,[[-64,30],[-61,29.3],[-57.5,30]]],
['MJO',0,[[-12,30],[-9.6,27],[-2.4,26.2],[12,27],[21.5,29.5],[22,30]]]
];

// Panel 7: 27-Dec to 31-Dec
const fills7 = [
[1,[[-83.7,31],[-87.3,25],[-91,23],[-91,4.2],[-81,4.7],[-76.6,7.5],[-73.6,3.7],[-68.8,0],[-57.4,1.8],[-52,5.6],[-42,10],[-28.7,11.8],[-21.5,10],[-12,7.5],[-8,11],[-4.2,15.2],[-7.2,17.6],[0,19.5],[10.8,21.4],[16.7,23.8],[26.3,25.2],[33.5,27],[41.9,31]]],
[1,[[49,31],[50.2,22.3],[62.2,17.6],[67,16],[70.6,11.8],[77.7,11.4],[81.3,16.6],[85,23.8],[91,21.9],[91,31]]],
[1,[[-12,4.7],[-9.6,6],[-2.4,5.6],[-3.6,4.2],[-9.6,2.8],[-12,3.2]]],
[1,[[4.8,10],[8.4,10.9],[12,10],[19,9.2],[19.7,7],[15.5,4.7],[13.8,8],[6,8.5]]],
[2,[[-68,31],[-71,25],[-69,20.9],[-62,19.7],[-57.8,20.9],[-57,25.2],[-57,31]]],
[2,[[-10.8,29],[-7.2,31],[-2.4,30.5],[-9.6,28.5]]],
[-1,[[-68.2,-11],[-62.2,-4.9],[-52.6,-2.5],[-45.5,-3.9],[-41.9,-7.3],[-40,-11]]],
[-1,[[20.3,-3.9],[23.3,-1.5],[28.7,-0.1],[33.5,-0.1],[37,0.4],[41.2,1.3],[49,1.8],[56.2,3.9],[67,1.8],[74,-0.6],[78.9,-3.9],[90.5,-5.8],[91,-11],[38.3,-11],[38.3,-5.3],[30.4,-7.8],[22.7,-8],[20.3,-5.8]]],
[0,[[67.7,-6.5],[70.6,-3.6],[73.8,-6],[72.5,-9.5],[70.6,-11],[68,-9]]]
];
const contours7 = [
['Low',1,[[-70.2,20],[-59.8,28],[-52.6,29.7],[-44.3,29],[-41.9,26],[-44.3,21.4],[-52.6,15.7],[-58.6,13.9],[-67.6,17.6]]],
['MJO',0,[[0.2,29],[6,26.2],[20.3,25.2],[32.3,25.7],[40.7,28],[47.2,28.6],[49.6,25.7],[49,23.8],[55,21.4],[62.2,18],[67.6,18],[71.8,22.3],[77.7,27],[79,30]]]
];

// Panel 8: 1-Jan to 5-Jan
const fills8 = [
[1,[[-91,21.4],[-81.3,24.7],[-75.4,31],[-43.7,31],[-41,16.6],[-47.8,10.9],[-57.4,6.6],[-68,10.4],[-73,13.8],[-80,15.2],[-82.5,13.8],[-82.5,9.5],[-85,5.6],[-89.4,4.7],[-91,4.7]]],
[2,[[-74,31],[-72.4,24.3],[-67.5,20.4],[-61,19],[-53.8,20.9],[-50.8,26],[-50.2,31]]],
[1,[[-13,26],[-7.2,25.7],[-1.2,26.6],[6,26],[10.8,26.6],[18,29.5],[39.5,31],[-9.6,31]]],
[1,[[53.2,23.3],[56.2,23.8],[63.4,23.3],[59.8,22.3],[58.6,20.9],[55,20.4]]],
[1,[[67,31],[72.4,26],[69.4,20.4],[74.2,17.6],[81.3,20.4],[86,24.7],[91,24.3],[91,31]]],
[-1,[[-37,31],[-34.7,26.6],[-29.9,25.7],[-25,27],[-23.3,31]]],
[-1,[[-84,-11],[-81.3,-6.3],[-76.6,-4.4],[-73,-6.3],[-67,-3.9],[-57.4,-2.5],[-46.6,-3.9],[-43,-7.3],[-42,-11]]],
[-1,[[-18,-11],[-13,-8.9],[-6,-9.2],[-2.4,-11]]],
[-1,[[9.6,-11],[12.6,-5.3],[19,0],[27.5,1.8],[33.5,3.7],[34.7,6],[40.7,7.3],[46.6,4.7],[51.4,2.8],[56.2,4.7],[63.4,3.7],[65.8,0.4],[70.6,-4.4],[77.7,-6.3],[91,-5.8],[91,-11]]]
];
const contours8 = [
['MJO',0,[[-73,30],[-67,28],[-58.6,26.6],[-52.6,27.6],[-49.6,30]]],
['MJO',0,[[18,30],[22.7,28.8],[30,28.5],[37.7,30]]],
['Low',1,[[-68.8,20.4],[-62.8,25.7],[-56.2,28.6],[-49,29],[-45,26.2],[-45.5,23.3],[-51.6,18],[-58.6,15.2],[-64.6,17.6],[-68.2,19]]]
];

const panelFills = [fills1, fills2, fills3, fills4, fills5, fills6, fills7, fills8];
const panelContours = [contours1, contours2, contours3, contours4, contours5, contours6, contours7, contours8];
const panelNames = ['27-nov-1-dec', '2-dec-6-dec', '7-dec-11-dec', '12-dec-16-dec', '17-dec-21-dec', '22-dec-26-dec', '27-dec-31-dec', '1-jan-5-jan'];

const NS = 'http://www.w3.org/2000/svg';
const LEFTS = [102, 844];
const TOPS = [39, 264, 489, 714];
const PW = 634;
const PH = 141;

function node(tag, attrs, parent) {
  const el = document.createElementNS(NS, tag);
  for (const k in attrs) el.setAttribute(k, attrs[k]);
  parent.appendChild(el);
  return el;
}
function smoothPath(pts, closed, sx, sy) {
  const P = pts.map(p => [sx(p[0]), sy(p[1])]);
  const n = P.length;
  const at = i => closed ? P[(i + n) % n] : P[Math.max(0, Math.min(n - 1, i))];
  let d = 'M' + P[0][0].toFixed(1) + ',' + P[0][1].toFixed(1);
  const last = closed ? n : n - 1;
  for (let i = 0; i < last; i++) {
    const a = at(i - 1), b = at(i), c = at(i + 1), e = at(i + 2);
    d += 'C' + (b[0] + (c[0] - a[0]) / 6).toFixed(1) + ',' + (b[1] + (c[1] - a[1]) / 6).toFixed(1) + ' ' +
         (c[0] - (e[0] - b[0]) / 6).toFixed(1) + ',' + (c[1] - (e[1] - b[1]) / 6).toFixed(1) + ' ' +
         c[0].toFixed(1) + ',' + c[1].toFixed(1);
  }
  return d + (closed ? 'Z' : '');
}
function linePath(pts, sx, sy) {
  return pts.map((p, i) => (i ? 'L' : 'M') + sx(p[0]).toFixed(1) + ',' + sy(p[1]).toFixed(1)).join('');
}
function bandColor(band) {
  return cbarColors[bandKeys.indexOf(band)];
}

const root = document.getElementById('panels');
panelFills.forEach((fills, idx) => {
  const col = idx < 4 ? 0 : 1;
  const row = idx % 4;
  const x0 = LEFTS[col];
  const y0 = TOPS[row];
  const sx = lon => x0 + (lon + 90) * PW / 180;
  const sy = lat => y0 + (30 - lat) * PH / 40;
  const g = node('g', {}, root);
  
  
  const clipId = 'clip-' + idx;
  const cp = node('clipPath', {id: clipId}, g);
  node('rect', {x: x0, y: y0, width: PW, height: PH}, cp);
  const inner = node('g', {'clip-path': 'url(#' + clipId + ')'}, g);
  const bg = node('rect', {x: x0, y: y0, width: PW, height: PH, fill: '#f7f7f7'}, inner);
  
  
  fills.forEach(f => {
    const blob = node('path', {d: smoothPath(f[1], true, sx, sy), fill: bandColor(f[0])}, inner);
    
    
  });
  equatorSegments.forEach(s => {
    const eq = node('line', {x1: sx(s[0]), x2: sx(s[1]), y1: sy(0), y2: sy(0), stroke: '#444', 'stroke-width': 1.5, 'stroke-dasharray': '5 4'}, inner);
    
    
  });
  const mer = node('line', {x1: sx(0), x2: sx(0), y1: sy(meridianSegment[0]), y2: sy(meridianSegment[1]), stroke: '#444', 'stroke-width': 1.5, 'stroke-dasharray': '5 4'}, inner);
  
  
  const land = node('path', {d: landOutlines.map(l => linePath(l, sx, sy)).join(''), fill: 'none', stroke: '#666', 'stroke-width': 2, 'stroke-linejoin': 'round'}, inner);
  
  
  const isles = node('path', {d: islandBlobs.map(l => smoothPath(l, true, sx, sy)).join(''), fill: '#666', stroke: '#666', 'stroke-width': 0.6}, inner);
  
  
  panelContours[idx].forEach(c => {
    const ct = node('path', {d: smoothPath(c[2], !!c[1], sx, sy), fill: 'none', stroke: contourColors[c[0]], 'stroke-width': 2}, inner);
    
    
  });
  const frame = node('rect', {x: x0, y: y0, width: PW, height: PH, fill: 'none', stroke: '#000', 'stroke-width': 2.6}, g);
  
  

  let ticks = '';
  xTickLons.forEach(l => {
    ticks += 'M' + sx(l) + ',' + (y0 - 6) + 'V' + y0 + 'M' + sx(l) + ',' + (y0 + PH) + 'V' + (y0 + PH + 7);
  });
  yTickLats.forEach(l => {
    ticks += 'M' + (x0 - 4) + ',' + sy(l) + 'H' + (x0 + 3) + 'M' + (x0 + PW - 3) + ',' + sy(l) + 'H' + (x0 + PW + 4);
  });
  const major = node('path', {d: ticks, stroke: '#000', 'stroke-width': 2.2, fill: 'none'}, g);
  
  
  let mticks = '';
  minorLons.forEach(l => {
    mticks += 'M' + sx(l) + ',' + (y0 - 3) + 'V' + y0 + 'M' + sx(l) + ',' + (y0 + PH) + 'V' + (y0 + PH + 4);
  });
  minorLats.forEach(l => {
    mticks += 'M' + (x0 - 3) + ',' + sy(l) + 'H' + x0 + 'M' + (x0 + PW) + ',' + sy(l) + 'H' + (x0 + PW + 3);
  });
  const minor = node('path', {d: mticks, stroke: '#000', 'stroke-width': 1.3, fill: 'none'}, g);
  
  

  if (col === 0) {
    yTickLabels.forEach((lab, i) => {
      const t = node('text', {x: x0 - 28, y: sy(yTickLats[i]) + 11.5, 'font-size': 34, 'text-anchor': 'end'}, g);
      t.textContent = lab;
      
      
    });
  }
  if (row === 3) {
    xTickLabels.forEach((lab, i) => {
      const t = node('text', {x: sx(xTickLons[i]), y: y0 + PH + 55, 'font-size': 35, 'text-anchor': 'middle'}, g);
      t.textContent = lab;
      
      
    });
  }
});

// Colour bar
const cb = document.getElementById('colorbar');
const cbX = 229.5;
const cbW = 603 / cbarColors.length;
cbarColors.forEach((c, i) => {
  const r = node('rect', {x: cbX + i * cbW, y: 971.5, width: cbW, height: 23.5, fill: c, stroke: '#000', 'stroke-width': 1.4}, cb);
  
  
});
cbarLabels.forEach((lab, i) => {
  const t = node('text', {x: cbX + (i + 1) * cbW, y: 1023, 'font-size': 30, 'text-anchor': 'middle'}, cb);
  t.textContent = lab;
  
  
});
</script>
</body>
</html>
